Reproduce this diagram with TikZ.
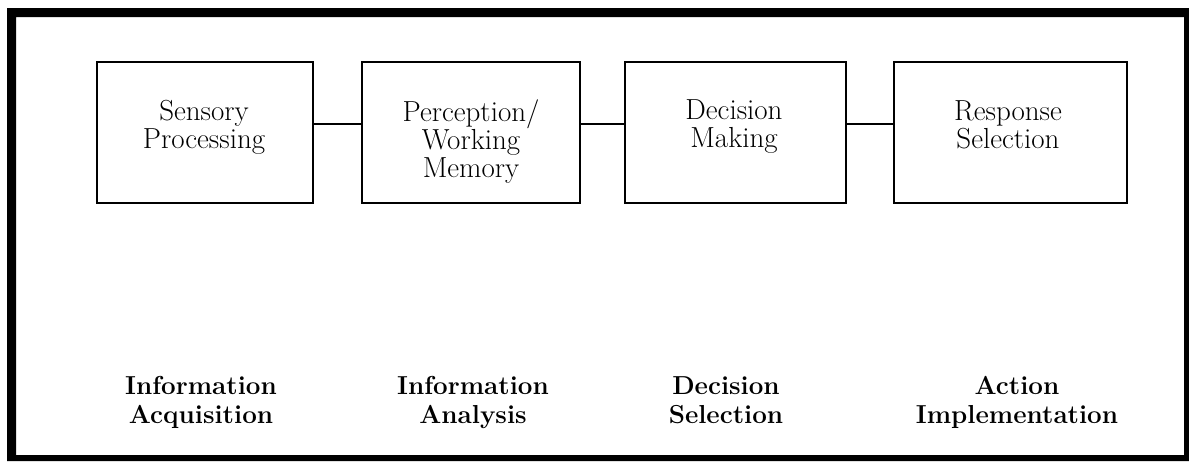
\documentclass[tikz,border=0pt]{standalone}
\begin{document}
\begin{tikzpicture}[x=1pt,y=-1pt,
  stagebox/.style={draw=black, line width=2pt, rectangle, inner sep=0pt},
  boxtext/.style={anchor=north, align=center, inner sep=0pt, font=\fontsize{29}{28}\selectfont},
  phasetext/.style={anchor=north, align=center, inner sep=0pt, font=\fontsize{26}{29}\selectfont\bfseries},
  link/.style={draw=black, line width=2pt}]
\useasboundingbox (0,0) rectangle (1189,461);
\fill[white] (0,0) rectangle (1189,461);
% frame
\fill[black, even odd rule] (7,8) rectangle (1189,461) (16,17) rectangle (1184,455);
% boxes
\node[stagebox, minimum width=216pt, minimum height=141pt] (b1) at (205,132.5) {};
\node[stagebox, minimum width=218pt, minimum height=141pt] (b2) at (471,132.5) {};
\node[stagebox, minimum width=221pt, minimum height=141pt] (b3) at (735.5,132.5) {};
\node[stagebox, minimum width=233pt, minimum height=141pt] (b4) at (1010.5,132.5) {};
% box texts
\node[boxtext] (t1) at (204,100) {Sensory\\Processing};
\node[boxtext] (t2) at (471,100) {Perception/\\Working\\Memory};
\node[boxtext] (t3) at (734,99) {Decision\\Making};
\node[boxtext] (t4) at (1008,100) {Response\\Selection};
% connectors
\draw[link] ([yshift=8.5pt]b1.east) -- ([yshift=8.5pt]b2.west);
\draw[link] ([yshift=8.5pt]b2.east) -- ([yshift=8.5pt]b3.west);
\draw[link] ([yshift=8.5pt]b3.east) -- ([yshift=8.5pt]b4.west);
% phase labels
\node[phasetext] (p1) at (201,376) {Information\\Acquisition};
\node[phasetext] (p2) at (473,376) {Information\\Analysis};
\node[phasetext] (p3) at (726,376) {Decision\\Selection};
\node[phasetext] (p4) at (1017,376) {Action\\Implementation};
\end{tikzpicture}
\end{document}
